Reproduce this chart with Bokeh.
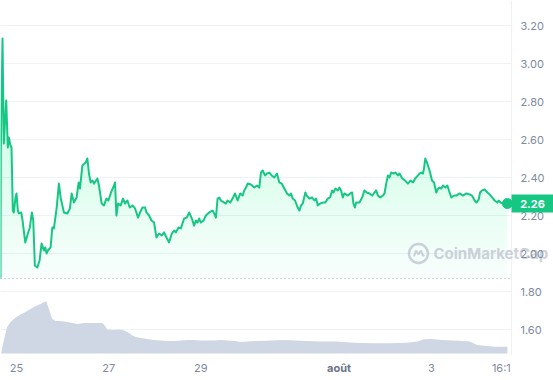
import numpy as np
from bokeh.plotting import figure
from bokeh.models import Range1d
from bokeh.core.properties import value
from bokeh.embed import file_html
from bokeh.resources import INLINE

# time axis: hours since 24 July 00:00
price_hours = [15.65, 15.81, 16.70, 17.37, 18.63, 19.46, 19.98, 20.87, 21.39, 22.07, 22.59, 23.48, 24.0, 24.68, 25.2,
               26.45, 27.13, 28.54, 29.9, 30.94, 31.98, 32.71, 33.55, 34.8, 36.0, 37.04, 38.24, 38.97, 39.65, 40.33,
               41.74, 42.63, 43.46, 44.87, 46.07, 46.96, 48.68, 50.45, 51.81, 52.7, 53.9, 55.3, 56.35, 57.03, 58.28,
               60.0, 60.89, 61.72, 62.61, 63.5, 64.33, 66.1, 66.94, 68.35, 69.55, 70.8, 71.84, 73.04, 74.77, 75.29,
               76.02, 76.85, 78.26, 79.46, 80.5, 81.76, 82.96, 84.37, 85.72, 87.29, 88.33, 89.58, 90.94, 91.67, 93.03,
               94.28, 95.63, 96.89, 98.24, 99.65, 100.85, 102.1, 103.46, 104.87, 106.07, 106.96, 108.37, 109.57,
               111.29, 112.7, 113.9, 115.3, 116.5, 117.39, 118.28, 119.11, 120.0, 121.41, 122.61, 124.33, 126.1,
               126.94, 127.83, 128.71, 129.55, 130.43, 132.16, 133.04, 133.93, 135.29, 136.54, 137.74, 139.15, 140.5,
               141.76, 142.59, 143.48, 144.37, 146.09, 147.81, 149.22, 150.42, 151.3, 152.19, 153.39, 154.43, 155.63,
               156.89, 158.24, 159.65, 160.85, 162.1, 163.46, 164.87, 166.07, 166.96, 167.84, 169.04, 170.45, 171.29,
               172.17, 173.06, 174.42, 175.15, 176.5, 177.91, 179.11, 180.0, 180.89, 182.09, 183.5, 184.85, 186.1,
               187.3, 188.35, 189.03, 190.07, 191.32, 192.16, 193.04, 193.93, 194.77, 196.54, 197.74, 198.78, 199.46,
               200.19, 200.87, 202.59, 204.0, 205.2, 206.45, 207.81, 209.22, 210.42, 211.3, 212.19, 213.39, 214.8,
               215.63, 216.52, 217.41, 218.24, 219.13, 220.33, 221.37, 222.63, 223.46, 224.87, 226.43, 227.84, 229.2,
               230.45, 231.65, 233.06, 233.9, 234.78, 235.67, 236.19, 236.87, 237.91, 239.11, 240.37, 241.41, 242.61,
               243.5, 244.33, 245.22, 246.1, 247.3, 248.35, 249.55, 250.43, 251.84, 253.04, 254.76, 256.54, 258.26,
               259.98, 261.23, 262.59, 263.48, 264.68, 265.41, 266.45, 267.81, 269.22, 270.42, 271.67, 273.03, 274.43,
               275.11, 276.15, 277.41, 278.61, 279.65]
price_values = [1.868, 2.542, 3.132, 2.579, 2.805, 2.558, 2.611, 2.568, 2.558, 2.226, 2.216, 2.295, 2.316, 2.226, 2.211,
                2.216, 2.174, 2.058, 2.105, 2.137, 2.216, 2.174, 1.937, 1.926, 1.963, 2.053, 2.016, 2.032, 2.0, 2.016,
                2.032, 2.137, 2.132, 2.237, 2.368, 2.295, 2.216, 2.211, 2.237, 2.316, 2.268, 2.295, 2.374, 2.342, 2.463,
                2.479, 2.5, 2.421, 2.374, 2.384, 2.368, 2.395, 2.358, 2.263, 2.253, 2.289, 2.279, 2.316, 2.358, 2.374,
                2.2, 2.263, 2.253, 2.289, 2.263, 2.279, 2.242, 2.253, 2.237, 2.189, 2.216, 2.242, 2.242, 2.216, 2.2,
                2.174, 2.163, 2.084, 2.105, 2.095, 2.111, 2.084, 2.058, 2.105, 2.121, 2.111, 2.137, 2.132,
                2.184, 2.189, 2.216, 2.184, 2.147, 2.174, 2.163, 2.184, 2.163, 2.174, 2.2, 2.216, 2.226,
                2.211, 2.189, 2.289, 2.295, 2.279, 2.268, 2.263, 2.279, 2.268, 2.289, 2.316, 2.279, 2.316,
                2.305, 2.332, 2.347, 2.368, 2.363, 2.347, 2.358, 2.347, 2.426, 2.437, 2.411, 2.421, 2.426,
                2.411, 2.4, 2.421, 2.374, 2.368, 2.342, 2.316, 2.305, 2.316, 2.289, 2.279, 2.242, 2.226,
                2.253, 2.263, 2.321, 2.305, 2.289, 2.295, 2.279, 2.289, 2.253, 2.263, 2.268, 2.268, 2.289,
                2.295, 2.332, 2.321, 2.342, 2.332, 2.347, 2.332, 2.295, 2.316, 2.305, 2.316, 2.321, 2.263,
                2.242, 2.268, 2.268, 2.295, 2.332, 2.321, 2.316, 2.305, 2.321, 2.332, 2.305, 2.295, 2.305,
                2.316, 2.368, 2.411, 2.4, 2.426, 2.421, 2.426, 2.411, 2.421, 2.395, 2.384, 2.368, 2.384,
                2.374, 2.395, 2.411, 2.421, 2.426, 2.421, 2.447, 2.5, 2.474, 2.437, 2.384, 2.374, 2.321,
                2.342, 2.347, 2.342, 2.358, 2.347, 2.358, 2.321, 2.295, 2.305, 2.305, 2.316, 2.305, 2.316,
                2.311, 2.305, 2.279, 2.268, 2.284, 2.321, 2.332, 2.337, 2.321, 2.311, 2.295, 2.279, 2.268,
                2.279, 2.268, 2.263, 2.263, 2.263]

volume_hours = [16.0, 17.4, 19.1, 20.9, 22.6, 24.4, 26.1, 27.8, 29.6, 31.3, 33.0, 34.8, 36.5, 38.25, 39.5, 40.85,
                42.6, 44.35, 46.96, 50.45, 53.06, 55.67, 59.1, 62.6, 66.1, 68.7, 69.9, 71.3, 74.8, 77.4, 79.98,
                82.6, 84.4, 86.1, 88.7, 92.2, 95.6, 99.1, 102.6, 106.1, 109.6, 113.1, 116.5, 120.0, 123.5, 126.9,
                130.4, 133.9, 137.4, 140.9, 144.4, 147.8, 153.9, 163.1, 172.3, 181.5, 190.6, 199.7, 208.9, 218.0,
                227.2, 232.7, 236.3, 240.0, 245.5, 254.6, 260.1, 263.8, 269.2, 272.9, 279.65]
volume_values = [0, 6.7, 13.2, 15.7, 17.3, 18.5, 19.5, 20.2, 21.2, 22.3, 23.2, 24.0, 24.8, 25.7, 26.0, 22.3,
                 17.3, 16.2, 16.2, 15.7, 15.3, 14.8, 15.2, 15.3, 15.2, 15.3, 14.0, 12.0, 11.8, 12.0, 11.5,
                 10.2, 9.0, 8.2, 7.7, 7.3, 6.8, 6.5, 6.2, 6.3, 6.5, 6.8, 6.8, 6.5, 6.5, 6.5,
                 6.8, 6.5, 6.2, 5.7, 6.0, 6.2, 6.4, 6.8, 6.4, 6.0, 6.0, 5.4, 5.1, 5.1,
                 5.4, 6.0, 7.1, 7.3, 6.8, 6.4, 6.0, 4.2, 3.8, 3.4, 3.4]

open_price = 1.868
last_price_label = "2.26"
y_ticks = [1.6, 1.8, 2.0, 2.2, 2.4, 2.6, 2.8, 3.0, 3.2]
y_tick_labels = ["1.60", "1.80", "2.00", "2.20", "2.40", "2.60", "2.80", "3.00", "3.20"]
x_tick_hours = [24.0, 72.0, 120.0, 240.0, 276.5]
x_tick_labels = ["25", "27", "29", "3", "16:1"]
month_tick_hour = 192.0
month_label = "août"

GREEN = "#16c784"
GRAY_TXT = "#808a9d"
GRID = "#eff2f5"
WM = "#c6cbd5"
FONT = value("Inter")

W, H = 553, 380
x0, x1 = 15.652, 303.65          # full canvas in hours
y0, y1 = 1.3316, 3.3316           # full canvas in price
hpp = (x1 - x0) / W               # hours per pixel
ppp = (y1 - y0) / H               # price per pixel
axis_h = x0 + 511 * hpp           # right price scale position
plot_bottom = y1 - 355 * ppp      # bottom of chart area

p = figure(width=W, height=H, x_range=Range1d(x0, x1), y_range=Range1d(y0, y1),
           output_backend="svg", toolbar_location=None, x_axis_type=None, y_axis_type=None,
           min_border=0, background_fill_color="white", border_fill_color="white", outline_line_color=None)
p.grid.visible = False
p.extra_y_ranges = {"vol": Range1d(-13.5, 176.5)}

# horizontal grid lines and right scale line
p.segment(x0=x0, x1=axis_h, y0=y_ticks, y1=y_ticks, line_color=GRID, line_width=1)
p.segment(x0=[axis_h], x1=[axis_h], y0=[y1], y1=[plot_bottom], line_color=GRID, line_width=1)

# volume area
p.varea(x=volume_hours, y1=0, y2=volume_values, y_range_name="vol", fill_color="#cfd6e4", fill_alpha=1.0)

# gradient-like fill under the price line
ph = np.array(price_hours)
pv = np.array(price_values)
p.varea(x=ph, y1=open_price, y2=np.maximum(pv, open_price), fill_color=GREEN, fill_alpha=0.02)
for lvl in np.arange(open_price, 3.2, 0.04):
    p.varea(x=ph, y1=lvl, y2=np.maximum(pv, lvl), fill_color=GREEN, fill_alpha=0.0095)

# open price dotted line
p.segment(x0=[x0], x1=[axis_h], y0=[open_price], y1=[open_price], line_color="#a1a7bb",
          line_dash="1 3", line_width=1)

# price line and end dot
p.line(ph, pv, line_color=GREEN, line_width=2, line_join="round")
p.scatter([ph[-1]], [pv[-1]], size=10, fill_color=GREEN, line_color=GREEN)

# watermark
logo_x = x0 + 418 * hpp
logo_y = 2.0
p.scatter([logo_x], [logo_y], size=19, marker="circle", fill_color=None, line_color=WM, line_width=2.5,
          line_alpha=0.9)
mx = [-4.5, -2.5, 0.0, 2.5, 4.5, 6.0]
my = [-3.0, 3.0, -1.0, 3.0, -2.5, -1.5]
p.line([logo_x + d * hpp for d in mx], [logo_y + d * ppp for d in my], line_color=WM, line_width=2,
       line_alpha=0.9)
p.text(x=[x0 + 433 * hpp], y=[2.0], text=["CoinMarketCap"], text_font=FONT, text_font_size="15px",
       text_font_style="bold", text_color=WM, text_alpha=0.9, text_align="left", text_baseline="middle")

# right price scale labels
p.text(x=[axis_h + 9 * hpp] * len(y_ticks), y=y_ticks, text=y_tick_labels, text_font=FONT,
       text_font_size="11px", text_color=GRAY_TXT, text_align="left", text_baseline="middle")

# time labels
label_y = y1 - 367 * ppp
p.text(x=x_tick_hours, y=[label_y] * len(x_tick_hours), text=x_tick_labels, text_font=FONT,
       text_font_size="11px", text_color=GRAY_TXT, text_align="center", text_baseline="middle")
p.text(x=[month_tick_hour], y=[label_y], text=[month_label], text_font=FONT, text_font_size="11px",
       text_font_style="bold", text_color="#6b7489", text_align="center", text_baseline="middle")

# current price tag
half = 9 * ppp
p.quad(left=[axis_h], right=[x1], top=[pv[-1] + half], bottom=[pv[-1] - half], fill_color=GREEN,
       line_color=None)
p.text(x=[(axis_h + x1) / 2], y=[pv[-1]], text=[last_price_label], text_font=FONT, text_font_size="11px",
       text_font_style="bold", text_color="white", text_align="center", text_baseline="middle")

open("out.html", "w").write(file_html(p, INLINE))
